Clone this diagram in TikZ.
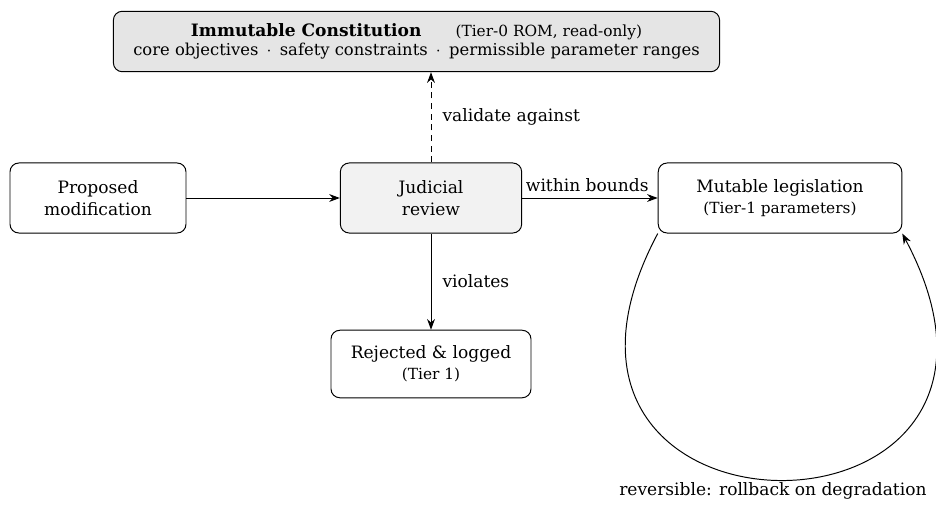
\documentclass[tikz,border=0pt]{standalone}
\usepackage{fontspec}
\setmainfont{DejaVu Serif}[Scale=0.96]
\usetikzlibrary{arrows.meta}
\begin{document}
\begin{tikzpicture}[x=0.5625pt,y=-0.5625pt,
  box/.style={draw, rounded corners=5pt, align=center, inner sep=2pt, line width=0.55pt},
  arr/.style={-{Stealth[length=6pt,width=4.4pt]}, line width=0.55pt}]
\useasboundingbox (0,0) rectangle (936,506);
\node[box, fill=gray!20, minimum width=341pt, minimum height=34pt] (con) at (416.5,41.5)
  {\textbf{Immutable Constitution}\qquad{\small(Tier-0 ROM, read-only)}\\[-1pt]
   {\fontsize{9.6pt}{12pt}\selectfont core objectives\enspace$\cdot$\enspace safety constraints\enspace$\cdot$\enspace permissible parameter ranges}};
\node[box, minimum width=99pt, minimum height=39.4pt] (pro) at (98,198) {Proposed\\modification};
\node[box, fill=gray!10, minimum width=102pt, minimum height=39.4pt] (jud) at (431,198) {Judicial\\review};
\node[box, minimum width=137pt, minimum height=39.4pt] (mut) at (780,198) {Mutable legislation\\{\small(Tier-1 parameters)}};
\node[box, minimum width=112.5pt, minimum height=38pt] (rej) at (431,364) {Rejected \& logged\\{\small(Tier 1)}};
\draw[arr] (pro) -- (jud);
\draw[arr] (jud) -- node[above, pos=0.48] {within bounds} (mut);
\draw[arr] (jud.south) -- node[right, pos=0.5, xshift=3pt] {violates} (rej.north);
\draw[arr, dash pattern=on 3.5pt off 2.5pt] (jud.north) -- node[right, pos=0.5, xshift=3pt] {validate against} (jud.north |- con.south);
\draw[arr] (mut.south west) to[out=-118, in=-62, looseness=3.9]
  node[below, pos=0.5, inner sep=1.5pt, xshift=-4pt] {reversible: rollback on degradation} (mut.south east);
\end{tikzpicture}
\end{document}
